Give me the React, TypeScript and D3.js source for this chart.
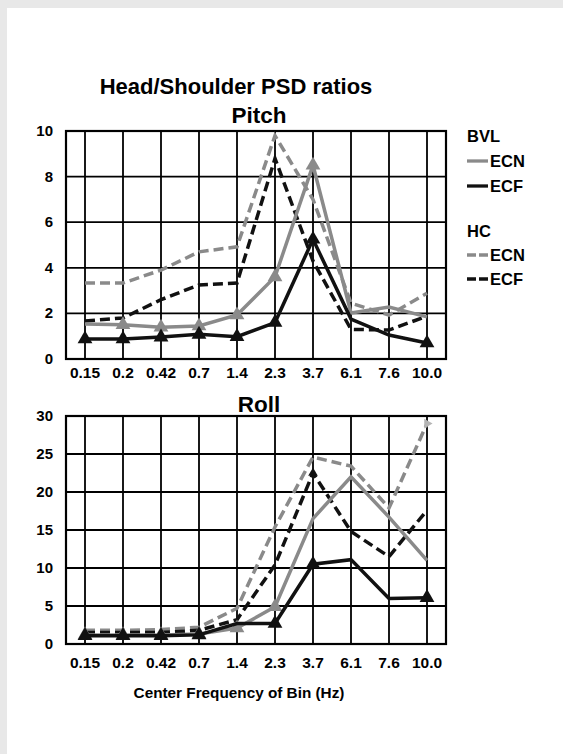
import React from "react";
import * as d3 from "d3";

const categories = ["0.15", "0.2", "0.42", "0.7", "1.4", "2.3", "3.7", "6.1", "7.6", "10.0"];

const pitchBvlEcn = [1.53, 1.5, 1.39, 1.45, 1.93, 3.6, 8.5, 2.02, 2.28, 1.85];
const pitchBvlEcf = [0.88, 0.88, 0.96, 1.08, 0.98, 1.6, 5.25, 1.75, 1.05, 0.7];
const pitchHcEcn = [3.33, 3.33, 3.9, 4.7, 4.92, 9.8, 7.0, 2.45, 1.93, 2.88];
const pitchHcEcf = [1.67, 1.8, 2.6, 3.25, 3.33, 8.8, 4.3, 1.3, 1.27, 1.88];

const rollBvlEcn = [1.2, 1.2, 1.2, 1.3, 2.1, 4.9, 16.5, 22.0, 16.7, 11.0];
const rollBvlEcf = [1.1, 1.1, 1.1, 1.2, 2.7, 2.7, 10.5, 11.1, 6.0, 6.1];
const rollHcEcn = [1.8, 1.8, 1.9, 2.2, 4.7, 15.4, 24.6, 23.4, 17.9, 29.0];
const rollHcEcf = [1.5, 1.5, 1.5, 1.8, 3.2, 10.4, 22.5, 14.8, 11.5, 17.6];

const pitchTicks = [0, 2, 4, 6, 8, 10];
const rollTicks = [0, 5, 10, 15, 20, 25, 30];

// indices of points carrying triangle markers
const pitchMarksEcn = [1, 2, 3, 4, 5, 6];
const pitchMarksEcf = [0, 1, 2, 3, 4, 5, 6, 9];
const rollMarksEcn = [0, 1, 2, 3, 4, 5];
const rollMarksEcf = [0, 1, 2, 3, 5, 6, 9];
const rollMarksHcEcf = [6];
const rollMarksHcEcn = [9];

const GRAY = "#8a8a8a";
const BLACK = "#111";
const FONT = "Liberation Sans, Arial, Helvetica, sans-serif";

const x = d3.scalePoint<string>().domain(categories).range([66, 446]).padding(0.5);

type Series = { values: number[]; color: string; dashed: boolean; marks: number[]; markSize: number; markColor: string; rotate?: number };

function Panel({ title, titleY, yTop, yBottom, ticks, max, series, tickLabelY }: any) {
  const y = d3.scaleLinear().domain([0, max]).range([yBottom, yTop]);
  const line = d3.line<number>().x((_, i) => x(categories[i])!).y((v) => y(v));
  const tri = d3.symbol();
  return (
    <g>
      <text x={259} y={titleY} textAnchor="middle" fontSize={22.5} fontWeight="bold" fontFamily={FONT}>{title}</text>
      {categories.map((c) => (
        <line key={c} x1={x(c)} x2={x(c)} y1={yTop} y2={yBottom} stroke="#000" strokeWidth={1.8} />
      ))}
      {ticks.map((t: number) => (
        <line key={t} x1={66} x2={446} y1={y(t)} y2={y(t)} stroke="#000" strokeWidth={1.8} />
      ))}
      <rect x={66} y={yTop} width={380} height={yBottom - yTop} fill="none" stroke="#000" strokeWidth={2.2} />
      {ticks.map((t: number) => (
        <text key={"l" + t} x={53} y={y(t) + 5} textAnchor="end" fontSize={15} fontWeight="bold" fontFamily={FONT}>{t}</text>
      ))}
      {categories.map((c) => (
        <text key={"x" + c} x={x(c)} y={tickLabelY} textAnchor="middle" fontSize={15.5} fontWeight="bold" fontFamily={FONT}>{c}</text>
      ))}
      {series.map((s: Series, k: number) => (
        <g key={k}>
          <path d={line(s.values)!} fill="none" stroke={s.color} strokeWidth={3.5} strokeDasharray={s.dashed ? "10,5" : undefined} strokeLinejoin="miter" />
          {s.marks.map((i) => (
            <path key={i} d={tri.type(d3.symbolTriangle).size(s.markSize)()!} transform={`translate(${x(categories[i])},${y(s.values[i])}) rotate(${s.rotate || 0})`} fill={s.markColor} />
          ))}
        </g>
      ))}
    </g>
  );
}

export default function App() {
  const pitchSeries: Series[] = [
    { values: pitchHcEcn, color: GRAY, dashed: true, marks: [], markSize: 0, markColor: GRAY },
    { values: pitchHcEcf, color: BLACK, dashed: true, marks: [], markSize: 0, markColor: BLACK },
    { values: pitchBvlEcn, color: GRAY, dashed: false, marks: pitchMarksEcn, markSize: 95, markColor: GRAY },
    { values: pitchBvlEcf, color: BLACK, dashed: false, marks: pitchMarksEcf, markSize: 95, markColor: BLACK },
  ];
  const rollSeries: Series[] = [
    { values: rollHcEcn, color: GRAY, dashed: true, marks: rollMarksHcEcn, markSize: 40, markColor: "#b5b5b5", rotate: 90 },
    { values: rollHcEcf, color: BLACK, dashed: true, marks: rollMarksHcEcf, markSize: 40, markColor: BLACK },
    { values: rollBvlEcn, color: GRAY, dashed: false, marks: rollMarksEcn, markSize: 95, markColor: GRAY },
    { values: rollBvlEcf, color: BLACK, dashed: false, marks: rollMarksEcf, markSize: 95, markColor: BLACK },
  ];
  const legend = [
    { y: 161, color: GRAY, dashed: false, label: "ECN" },
    { y: 186, color: BLACK, dashed: false, label: "ECF" },
    { y: 255, color: GRAY, dashed: true, label: "ECN" },
    { y: 279, color: BLACK, dashed: true, label: "ECF" },
  ];
  return (
    <svg width={563} height={754} style={{ position: "absolute", left: 0, top: 0 }}>
      <rect x={0} y={0} width={563} height={754} fill="#e8e8e8" />
      <rect x={7} y={8} width={556} height={746} fill="#fff" />
      <text x={236} y={94} textAnchor="middle" fontSize={22} fontWeight="bold" fontFamily={FONT}>Head/Shoulder PSD ratios</text>
      <Panel title="Pitch" titleY={123} yTop={131} yBottom={359} ticks={pitchTicks} max={10} series={pitchSeries} tickLabelY={378} />
      <Panel title="Roll" titleY={412} yTop={416} yBottom={644} ticks={rollTicks} max={30} series={rollSeries} tickLabelY={668} />
      <text x={239} y={698} textAnchor="middle" fontSize={15.3} fontWeight="bold" fontFamily={FONT}>Center Frequency of Bin (Hz)</text>
      <text x={467} y={142} fontSize={16.5} fontWeight="bold" fontFamily={FONT}>BVL</text>
      <text x={467} y={237} fontSize={16.5} fontWeight="bold" fontFamily={FONT}>HC</text>
      {legend.map((l, i) => (
        <g key={i}>
          <line x1={467} x2={488} y1={l.y} y2={l.y} stroke={l.color} strokeWidth={3.3} strokeDasharray={l.dashed ? "9,3" : undefined} />
          <text x={490} y={l.y + 6} fontSize={16.5} fontWeight="bold" fontFamily={FONT}>{l.label}</text>
        </g>
      ))}
    </svg>
  );
}
